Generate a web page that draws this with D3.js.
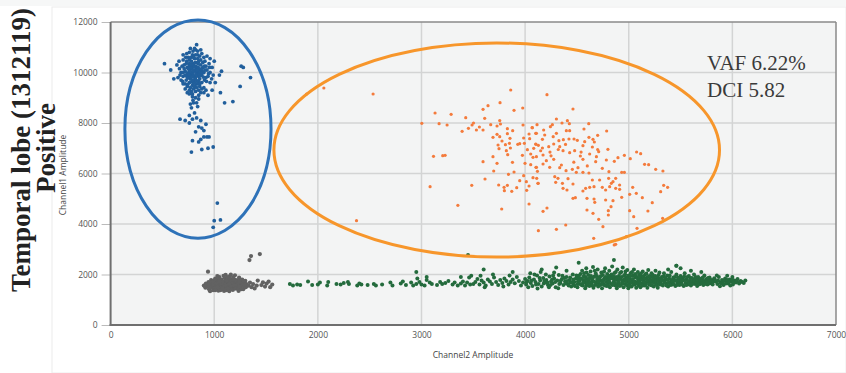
<!DOCTYPE html>
<html>
<head>
<meta charset="utf-8">
<script src="https://cdnjs.cloudflare.com/ajax/libs/d3/7.8.5/d3.min.js"></script>
<style>
  body { margin: 0; background: #fff; }
  svg { display: block; }
</style>
</head>
<body>
<div id="chart"></div>
<script>
// axis ticks
var xTicks = [0, 1000, 2000, 3000, 4000, 5000, 6000, 7000];
var yTicks = [0, 2000, 4000, 6000, 8000, 10000, 12000];

// droplets, [Channel2 amplitude, Channel1 amplitude]
var bluePts = [
  [780,9900],[800,10050],[820,9800],[760,10100],[840,10000],[810,9700],[790,10250],[850,9850],[770,9750],[830,10150],
  [740,9950],[860,10100],[800,9600],[720,10050],[880,9900],[760,10350],[820,10400],[790,9500],[850,9650],[700,9850],
  [900,10000],[740,10200],[870,10300],[810,10550],[760,9600],[830,9550],[680,10000],[920,9800],[780,10450],[860,9450],
  [730,9700],[890,10200],[750,10600],[840,10700],[800,9350],[710,10300],[930,10100],[770,9400],[880,9600],[820,10250],
  [795,9950],[815,10100],[775,10000],[835,9900],[805,9850],[765,9850],[845,10200],[785,10150],[825,10050],[755,10000],
  [905,9700],[695,9650],[945,9950],[665,10150],[950,10350],[700,10500],[870,10500],[910,10450],[735,10450],[790,10700],
  [820,10900],[760,10800],[880,10750],[960,9600],[980,10200],[650,9800],[640,10300],[900,9400],[850,9300],[780,9250],
  [740,9450],[960,10550],[990,9900],[720,9350],[810,10950],[830,11100],[870,9200],[790,9150],[920,9300],[700,10700],
  [720,9550],[880,10050],[760,10250],[840,9550],[800,10350],[860,9750],[735,9850],[905,10250],[775,10600],[815,9450],
  [745,9780],[755,9920],[765,10040],[775,10180],[785,9820],[795,10080],[805,10220],[815,9760],[825,9920],[835,10080],
  [845,10340],[855,9980],[865,9880],[875,10140],[885,10020],[895,9820],[750,10150],[770,9620],[790,9680],[810,9580],
  [830,9680],[850,10440],[870,9980],[890,10400],[730,10350],[720,9900],[710,10150],[725,10600],[760,10500],[800,10600],
  [840,10550],[860,10650],[900,10600],[920,10250],[940,9850],[925,9650],[910,10100],[700,10000],[690,10250],[680,9700],
  [745,9520],[805,9460],[860,9550],[780,10320],[820,10700],[840,10850],[795,10850],[735,10750],[770,10950],[870,10900],
  [960,10000],[975,9750],[955,10200],[930,10650],[670,9900],[660,10450],[700,9550],[760,9300],[830,9400],[900,9200],
  [790,9040],[850,9100],[760,9150],[820,9250],[880,9350],[740,9200],[795,8900],[830,8800],[770,8750],[850,8950],
  [520,10350],[580,10100],[610,9750],[1000,10450],[1050,9900],[1070,10050],[1260,10250],[1280,10200],[1350,9800],
  [1250,9450],[1180,8850],[1100,8800],[1060,9200],[1010,9600],[940,9100],[980,9300],
  [820,9000],[800,8800],[840,8650],[780,8600],[810,8400],[760,8300],[790,8150],[830,8200],[870,8100],[760,8000],
  [850,7850],[880,7800],[920,7950],[900,7700],[820,7650],[900,7450],[930,7450],[870,7350],[790,7300],[720,8100],
  [670,8150],[850,7250],[950,7450],[780,6850],[940,7000],[990,7050],[880,6950],
  [1030,4830],[1000,4130],[1060,4160],[990,3870]
];

var orangePts = [
  [1891,9149],[2058,9386],[2533,9149],[2373,4131],
  [3861,9307],[3131,8396],[3286,8345],[3427,8210],[3003,7987],[3170,7972],[3247,7921],[3392,7670],[3453,7788],[3488,7921],
  [3502,8000],[3530,7723],[3559,7842],[3594,7723],[3594,8543],[3642,8685],[3610,8185],[3668,7935],[3758,8804],[3729,7881],
  [3755,8095],[3762,7960],[3893,8502],[3977,8594],[3690,7433],[3729,7551],[3755,7459],[3777,7287],[3748,6984],[3739,7129],
  [3829,7775],[3829,7577],[3854,7393],[3849,7195],[3810,7142],[3819,6904],[3858,7010],[3832,6746],[3880,7696],[3929,7156],
  [3948,7182],[3986,7406],[3993,7195],[3974,6720],[3980,7921],[3116,6680],[3205,6706],[3228,6720],[3594,6468],[3690,6667],
  [3729,6402],[3697,6099],[3839,5967],[3893,6059],[3878,6442],[3613,5782],[3485,5531],[3083,5478],[3745,5545],[3797,5452],
  [3829,5531],[3800,5320],[3871,5294],[3919,5439],[3948,5716],[3986,5914],[4012,5676],[4015,5333],[4038,5505],[4038,4792],
  [3351,4739],[3774,4594],[3999,6402],[4054,6350],[4022,6944],[4054,6772],[4076,6640],[4038,7564],[4067,7815],[4044,7380],
  [4102,7591],[4083,6997],[4105,7155],[4128,3737],[4105,6244],[4119,6086],[4112,5810],[4125,5610],
  [4211,9120],[4462,8554],[4302,8158],[4408,8092],[4356,8000],[4427,7972],[4115,7935],[4244,7855],[4263,7935],[4070,7815],
  [4179,7723],[4398,7696],[4430,7696],[4568,7762],[4614,7972],[4787,7683],[4700,7512],[4616,7433],[4655,7353],[4668,7248],
  [4575,7261],[4504,7313],[4472,7366],[4423,7366],[4369,7340],[4326,7300],[4271,7459],[4302,7591],[4189,7525],[4109,7591],
  [4167,7353],[4102,7168],[4128,7115],[4167,7010],[4228,7063],[4276,7168],[4334,7063],[4366,6904],[4430,6825],[4478,6904],
  [4558,7102],[4649,7050],[4710,6864],[4799,6958],[4533,6693],[4558,6562],[4623,6772],[4688,6667],[4681,6468],[4784,6535],
  [4861,6482],[4896,6627],[4958,6720],[5015,6588],[5076,6851],[5115,6786],[5153,6363],[5192,6350],[5260,6165],[5330,6099],
  [4958,6046],[4932,6046],[4809,6072],[4745,6204],[4616,6020],[4558,6046],[4494,6046],[4510,6231],[4456,6165],[4395,6112],
  [4334,6231],[4350,6337],[4276,6561],[4205,6508],[4173,6376],[4173,6733],[4109,6667],[4237,6244],[4109,6244],[4076,5834],
  [4125,5610],[4286,5874],[4317,5808],[4295,5650],[4360,5610],[4414,5795],[4462,5584],[4404,5347],[4366,5413],[4462,5017],
  [4485,5043],[4558,5307],[4584,5413],[4623,5452],[4665,5478],[4649,5743],[4597,5017],[4665,4990],[4672,4858],[4719,5743],
  [4745,5452],[4777,5347],[4816,5478],[4832,5610],[4806,5808],[4874,5808],[4848,5676],[4874,5413],[4912,5545],[4912,5373],
  [4932,5056],[4777,4950],[4848,4924],[4829,4686],[4803,4528],[4803,4356],[4710,4185],[4751,3894],[4655,4422],[4597,4554],
  [4211,4633],[4173,4502],[4392,3960],[4302,3790],[4662,3433],[4874,3196],[4977,3497],[5009,4528],[5048,4290],[5080,3830],
  [5009,5175],[5038,5452],[5073,5216],[5131,5043],[5185,4515],[5227,4844],[5327,4225],[5308,5280],[5337,5531],[5375,5452],
  [4860,3170],[4240,6850],[4320,6950],[4390,7150],[4540,6850],[4600,6300],[4250,6700],[4470,6450],[4150,6900],[4700,6950]
];

var grayPts = [
  [900,1560],[915,1480],[920,1640],[940,1520],[945,1700],[950,1420],[965,1600],[970,1780],[980,1480],[990,1380],
  [995,1660],[1005,1550],[1010,1840],[1020,1450],[1025,1730],[1035,1610],[1040,1360],[1050,1900],[1055,1500],[1060,1680],
  [1070,1800],[1075,1420],[1080,1580],[1090,1950],[1095,1350],[1100,1720],[1105,1500],[1110,1640],[1120,1850],[1125,1410],
  [1130,1560],[1140,1760],[1145,1340],[1150,1930],[1155,1480],[1160,1660],[1170,1590],[1175,1820],[1180,1390],[1190,1710],
  [1195,1520],[1200,1970],[1210,1440],[1215,1640],[1220,1780],[1230,1560],[1235,1350],[1240,1880],[1250,1480],[1255,1700],
  [1265,1600],[1270,1800],[1280,1420],[1285,1540],[1290,1680],[1300,1750],[1305,1500],[1310,1620],
  [960,1340],[1000,1760],[1030,1940],[1065,1560],[1085,1460],[1115,1380],[1135,1680],[1165,1450],[1185,1900],[1205,1600],
  [1225,1450],[1245,1620],[1160,2000],[1110,1990],[1050,1620],[1015,1640],[935,1600],[975,1560],[1125,1700],[1175,1540],
  [1205,1750],[1095,1600],[1145,1620],[1060,1460],[1020,1540],
  [910,1540],[925,1600],[955,1500],[960,1680],[985,1600],[990,1720],[1000,1440],[1015,1800],[1030,1500],[1040,1680],
  [1045,1820],[1060,1380],[1070,1640],[1080,1720],[1090,1500],[1100,1860],[1105,1420],[1115,1560],[1120,1760],[1135,1460],
  [1140,1600],[1150,1820],[1160,1540],[1165,1740],[1175,1420],[1185,1640],[1195,1800],[1200,1480],[1210,1700],[1220,1560],
  [1230,1660],[1240,1520],[1250,1780],[1260,1420],[1265,1680],[1275,1560],[1285,1740],[1295,1600],[1050,1720],[1080,1440],
  [1130,1900],[1190,1580],[1240,1720],[1010,1380],[950,1600],
  [940,2110],[1340,2570],[1355,2730],[1440,2810],[1330,1560],[1345,1680],[1360,1500],[1375,1620],[1390,1450],[1410,1560],
  [1420,1760],[1455,1580],[1470,1690],[1490,1520],[1505,1640],[1540,1500],[1560,1600],[1525,1720]
];

var greenPts = [
  [1730,1620],[1760,1560],[1800,1600],[1830,1580],[1905,1720],[1945,1580],[2000,1600],[2020,1680],[2090,1560],[2100,1700],
  [2180,1620],[2220,1600],[2250,1660],[2290,1700],[2300,1620],[2380,1560],[2400,1640],[2420,1600],[2480,1580],[2540,1620],
  [2560,1560],[2620,1600],[2700,1680],[2720,1560],[2800,1640],[2820,1720],[2850,1580],[2900,1680],[2920,1560],[2950,1620],
  [2960,1840],[2980,1700],[3000,1600],[3030,1560],[3050,1780],[3080,1680],[3100,1620],[3150,1580],[3180,1700],[3200,1620],
  [3230,1660],[3260,1740],[3300,1600],[3320,1680],[3350,1560],[3380,1640],[3400,1720],[3420,1560],[3440,1680],[3460,1880],
  [3470,1600],[3500,1620],[3449,2770],[2950,2100],[3050,1900],[3380,1900],[3480,1950],
  [3520,1700],[3540,1820],[3560,1600],[3580,1760],[3600,1680],[3620,1560],[3640,1800],[3660,1720],[3680,1620],[3700,1880],
  [3720,1700],[3740,1580],[3760,1780],[3780,1660],[3800,1840],[3820,1740],[3840,1600],[3860,1700],[3880,1800],[3900,1650],
  [3920,1900],[3940,1740],[3960,1560],[3980,1680],[4000,1820],[3570,1950],[3690,2000],[3850,1960],[3610,1500],[3790,1520],
  [4010,1600],[4025,1740],[4040,1880],[4055,1660],[4070,1540],[4085,1800],[4100,1700],[4115,1960],[4130,1620],[4145,1760],
  [4160,1520],[4175,1860],[4190,1680],[4205,1780],[4220,1580],[4235,1920],[4250,1720],[4265,1640],[4280,1840],[4295,1500],
  [4310,1760],[4325,1980],[4340,1660],[4355,1820],[4370,1580],[4385,1720],[4400,1900],[4415,1620],[4430,1780],[4445,1520],
  [4460,2000],[4475,1700],[4490,1840],[4050,2050],[4150,2100],[4280,2080],[4400,2150],[4120,1450],[4320,1460],[4200,2000],
  [4090,2000],[4230,1500],[4360,1950],[4470,1600],[4030,1500],[4180,1640],[4440,1680],[4270,1960],
  [4015,1700],[4060,1760],[4105,1600],[4140,1860],[4185,1740],[4215,1680],[4245,1580],[4260,1800],[4290,1700],[4330,1620],
  [4345,1760],[4380,1860],[4395,1640],
  [4405,1740],[4420,1560],[4435,1880],[4450,1680],[4465,1800],[4480,1540],[4495,1960],
  [4505,1500],[4510,1720],[4520,1950],[4530,1620],[4540,1840],[4550,2150],[4555,1560],[4560,1780],[4570,2050],[4575,1680],
  [4580,1460],[4585,1900],[4590,2250],[4595,1600],[4598,1820],
  [4508,1620],[4515,1840],[4525,1760],[4535,2020],[4545,1580],[4560,1680],[4565,1920],[4578,1780],[4588,1540],[4592,2080],
  [4605,1700],[4610,1980],[4620,1540],[4625,1860],[4632,2120],[4640,1640],[4648,1760],[4655,2300],[4660,1480],[4668,1920],
  [4675,1580],[4682,2040],[4690,1700],[4695,1820],[4700,2200],
  [4602,1600],[4615,1800],[4628,1680],[4636,1940],[4645,1560],[4652,1860],[4665,1720],[4672,2150],[4685,1620],[4692,1940],
  [4705,1520],[4712,1640],[4720,1900],[4728,1760],[4735,2080],[4742,1460],[4750,1980],[4758,1600],[4765,1840],[4772,2250],
  [4780,1700],[4788,1540],[4792,2020],[4796,1880],[4799,1660],
  [4708,1720],[4716,1840],[4725,1580],[4732,1940],[4745,1680],[4755,1780],[4762,2120],[4770,1560],[4777,1900],[4785,1820],
  [4805,1780],[4812,2150],[4818,1500],[4825,1960],[4832,1620],[4840,2320],[4847,1840],[4855,1700],[4862,2060],[4870,1560],
  [4878,1900],[4885,1460],[4890,2200],[4895,1760],[4899,1640],
  [4802,1560],[4808,1920],[4815,1700],[4822,1840],[4835,2000],[4844,1580],[4852,1920],[4860,1780],[4868,1660],[4875,2100],
  [4882,1820],[4892,1560],
  [4905,1940],[4912,1540],[4920,1820],[4928,2100],[4935,1680],[4942,2280],[4950,1500],[4958,1760],[4965,2000],[4972,1600],
  [4980,1880],[4986,2180],[4992,1720],[4996,1460],[4999,1960],
  [4902,1700],[4908,1840],[4916,2060],[4925,1580],[4932,1900],[4940,1760],[4946,1640],[4955,1960],[4962,1820],[4968,2120],
  [4976,1700],[4983,1560],[4990,1840],
  [5005,1640],[5012,1820],[5020,2060],[5028,1520],[5035,1740],[5042,1960],[5050,2200],[5058,1600],[5065,1880],[5072,1480],
  [5080,1700],[5088,2100],[5092,1800],[5096,1560],[5099,1980],
  [5002,1780],[5010,1560],[5016,1940],[5024,1680],[5032,2100],[5040,1820],[5046,1600],[5055,1720],[5062,2020],[5068,1920],
  [5076,1640],[5085,1860],[5094,1680],
  [5105,1720],[5112,1500],[5120,1920],[5128,1640],[5135,2120],[5142,1780],[5150,1560],[5158,2000],[5165,1680],[5172,1860],
  [5180,1480],[5188,2180],[5192,1740],[5196,1600],[5199,1940],
  [5102,1860],[5110,1640],[5118,2040],[5125,1800],[5132,1560],[5140,1920],[5146,1700],[5155,1840],[5162,1580],[5170,2040],
  [5177,1760],[5185,1900],[5195,1680],
  [5205,1800],[5212,1580],[5220,2050],[5228,1700],[5235,1900],[5242,1520],[5250,1760],[5258,2150],[5265,1640],[5272,1840],
  [5280,1480],[5288,1980],[5292,1720],[5296,2080],[5299,1600],
  [5202,1640],[5210,1900],[5218,1760],[5225,1560],[5232,1980],[5240,1820],[5248,1660],[5255,1940],[5262,1760],[5270,1580],
  [5278,1900],[5285,1780],[5295,1680],
  [5310,1700],[5320,1900],[5330,1560],[5340,2050],[5350,1780],[5360,1640],[5370,1960],[5380,1520],[5390,1840],[5400,1700],
  [5410,2100],[5420,1600],[5430,1880],[5440,1760],[5450,1540],[5460,2000],[5470,1680],[5480,1820],[5490,1580],[5500,1940],
  [5305,1840],[5315,1600],[5325,1780],[5335,1920],[5345,1680],[5355,1860],[5365,1560],[5375,1780],[5385,1660],[5395,1960],
  [5405,1580],[5415,1780],[5425,1720],[5435,1620],[5445,1900],[5455,1760],[5465,1580],[5475,1880],[5485,1720],[5495,1640],
  [5510,1720],[5520,1860],[5530,1540],[5540,2050],[5550,1660],[5560,1800],[5570,1600],[5580,1940],[5590,1740],[5600,1560],
  [5505,1820],[5515,1600],[5525,1760],[5535,1920],[5545,1780],[5555,1580],[5565,1900],[5575,1720],[5585,1640],[5595,1860],
  [5610,1860],[5620,1700],[5630,2000],[5640,1620],[5650,1800],[5660,1540],[5670,1900],[5680,1700],[5690,1620],[5700,1840],
  [5605,1700],[5615,1620],[5625,1800],[5635,1740],[5645,1900],[5655,1680],[5665,1780],[5675,1600],[5685,1820],[5695,1740],
  [5710,1760],[5720,1580],[5730,1960],[5740,1680],[5750,1820],[5760,1600],[5770,1740],[5780,1880],[5790,1650],[5800,1780],
  [5705,1660],[5715,1880],[5725,1720],[5735,1620],[5745,1780],[5755,1700],[5765,1860],[5775,1640],[5785,1760],[5795,1720],
  [5460,2350],[5500,2250],[5380,2200],[5600,2150],[5700,2100],
  [5810,1600],[5825,1850],[5840,1720],[5855,1620],[5870,1900],[5885,1680],[5900,1780],[5915,1580],[5930,1840],[5945,1700],
  [5960,1640],[5975,1800],[5990,1720],[6005,1600],[6020,1760],[6035,1680],[6050,1820],[6065,1640],[6080,1740],[6095,1700],
  [6110,1660],[6125,1760],[5850,1960],[5950,1950],[6000,1900],[5880,1530],[5980,1560],
  [5818,1720],[5832,1780],[5862,1760],[5893,1640],[5908,1700],[5922,1760],[5938,1640],[5952,1780],[5968,1700],[5998,1800],
  [6012,1680],[6042,1740],[6072,1700],
  [4517,2470],[4857,2570],[5459,2350],[4300,2280],[4160,2200],[3880,2100],[3600,2200]
];

// hand-drawn cluster rings, in data units: cx, cy, rx, ry
var blueRing = [843, 7760, 705, 4320];
var orangeRing = [3726, 6930, 2150, 4240];

var title1 = "Temporal lobe (1312119)";
var title2 = "Positive";
var notes = ["VAF 6.22%", "DCI 5.82"];

var W = 846, H = 373;
var svg = d3.select("#chart").append("svg")
    .attr("width", W)
    .attr("height", H);

var x = d3.scaleLinear().domain([0, 7000]).range([110.6, 836]);
var y = d3.scaleLinear().domain([0, 12000]).range([325, 22]);

// outer panel
svg.append("rect").attr("x", 0).attr("y", 0).attr("width", W).attr("height", 6).attr("fill", "#f6f7f7");
svg.append("rect")
    .attr("x", 52).attr("y", 7).attr("width", W - 52).attr("height", H - 7)
    .attr("fill", "#fff").attr("stroke", "#ececec");

// plot area
svg.append("rect")
    .attr("x", x(0)).attr("y", y(12000))
    .attr("width", x(7000) - x(0)).attr("height", y(0) - y(12000))
    .attr("fill", "#f3f4f4");

// grid
svg.append("g").selectAll("line").data(xTicks.slice(1, -1)).enter().append("line")
    .attr("x1", function(d) { return x(d); }).attr("x2", function(d) { return x(d); })
    .attr("y1", y(0)).attr("y2", y(12000))
    .attr("stroke", "#d3d4d4").attr("stroke-width", 1.5);
svg.append("g").selectAll("line").data(yTicks.slice(1, -1)).enter().append("line")
    .attr("x1", x(0)).attr("x2", x(7000))
    .attr("y1", function(d) { return y(d); }).attr("y2", function(d) { return y(d); })
    .attr("stroke", "#d3d4d4").attr("stroke-width", 1.5);

// axes
var xAxis = svg.append("g")
    .attr("transform", "translate(0," + y(0) + ")")
    .call(d3.axisBottom(x).tickValues(xTicks).tickSize(0).tickPadding(7).tickFormat(d3.format("d")));
var yAxis = svg.append("g")
    .attr("transform", "translate(" + x(0) + ",0)")
    .call(d3.axisLeft(y).tickValues(yTicks).tickSize(9).tickPadding(4).tickFormat(d3.format("d")));
[xAxis, yAxis].forEach(function(a) {
  a.select(".domain").remove();
  a.selectAll("text").attr("fill", "#555").style("font-family", "'Open Sans', sans-serif").style("font-size", "8.5px");
  a.selectAll(".tick line").attr("stroke", "#bbb");
});

// frame
svg.append("line").attr("x1", x(0)).attr("x2", x(7000)).attr("y1", y(12000)).attr("y2", y(12000))
    .attr("stroke", "#8a8a8a").attr("stroke-width", 1.5);
svg.append("line").attr("x1", x(7000)).attr("x2", x(7000)).attr("y1", y(0)).attr("y2", y(12000))
    .attr("stroke", "#8a8a8a").attr("stroke-width", 1.5);
svg.append("line").attr("x1", x(0)).attr("x2", x(0)).attr("y1", y(0) + 1).attr("y2", y(12000))
    .attr("stroke", "#6f6f6f").attr("stroke-width", 2);
svg.append("line").attr("x1", x(0) - 1).attr("x2", x(7000)).attr("y1", y(0)).attr("y2", y(0))
    .attr("stroke", "#6f6f6f").attr("stroke-width", 2);

// axis titles
svg.append("text")
    .attr("x", 473).attr("y", 358)
    .attr("text-anchor", "middle")
    .style("font-family", "'Open Sans', sans-serif").style("font-size", "8.5px")
    .attr("fill", "#444")
    .text("Channel2 Amplitude");
svg.append("text")
    .attr("transform", "translate(66,175) rotate(-90)")
    .attr("text-anchor", "middle")
    .style("font-family", "'Open Sans', sans-serif").style("font-size", "8.5px")
    .attr("fill", "#444")
    .text("Channel1 Amplitude");

// droplets
function drawPts(data, color, r) {
  svg.append("g").selectAll("circle").data(data).enter().append("circle")
      .attr("cx", function(d) { return x(d[0]); })
      .attr("cy", function(d) { return y(d[1]); })
      .attr("r", r)
      .attr("fill", color);
}
drawPts(grayPts, "#626262", 2.1);
drawPts(greenPts, "#246b3d", 2.0);
drawPts(bluePts, "#215f9c", 1.9);
drawPts(orangePts, "#f47b3c", 1.6);

// rings
function ring(e, color) {
  svg.append("ellipse")
      .attr("cx", x(e[0])).attr("cy", y(e[1]))
      .attr("rx", x(e[2]) - x(0)).attr("ry", y(0) - y(e[3]))
      .attr("fill", "none").attr("stroke", color).attr("stroke-width", 3);
}
ring(blueRing, "#2e72b8");
ring(orangeRing, "#f7962b");

// notes
svg.selectAll(".note").data(notes).enter().append("text")
    .attr("class", "note")
    .attr("x", 707)
    .attr("y", function(d, i) { return 70 + i * 27; })
    .style("font-family", "'Liberation Serif', 'Times New Roman', serif").style("font-size", "21px")
    .attr("fill", "#3a3a3a")
    .text(function(d) { return d; });

// sample label
svg.append("text")
    .attr("transform", "translate(30,150) rotate(-90)")
    .attr("text-anchor", "middle")
    .style("font-family", "'Liberation Serif', 'Times New Roman', serif").style("font-size", "27px").style("font-weight", "bold")
    .attr("fill", "#222")
    .text(title1);
svg.append("text")
    .attr("transform", "translate(54.5,148) rotate(-90)")
    .attr("text-anchor", "middle")
    .style("font-family", "'Liberation Serif', 'Times New Roman', serif").style("font-size", "27px").style("font-weight", "bold")
    .attr("fill", "#222")
    .text(title2);
</script>
</body>
</html>
